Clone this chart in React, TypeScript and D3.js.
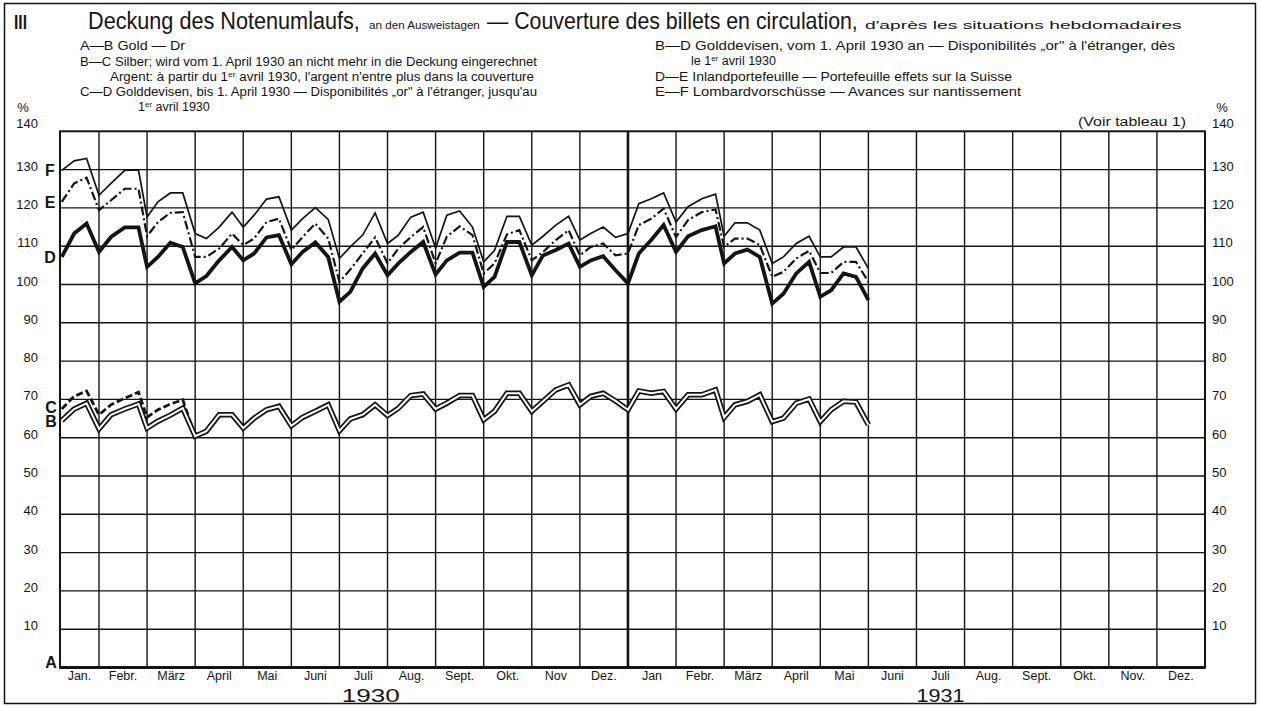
import React, { useLayoutEffect, useRef, useState } from 'react';
import * as d3 from 'd3';

// month labels along the bottom, 1930 then 1931
const monthLabels = [
  'Jan.', 'Febr.', 'März', 'April', 'Mai', 'Juni', 'Juli', 'Aug.', 'Sept.', 'Okt.', 'Nov', 'Dez.',
  'Jan', 'Febr.', 'März', 'April', 'Mai', 'Juni', 'Juli', 'Aug.', 'Sept.', 'Okt.', 'Nov.', 'Dez.',
];
const yearLabels = ['1930', '1931'];
const yTicks = [10, 20, 30, 40, 50, 60, 70, 80, 90, 100, 110, 120, 130, 140];

// report days of each month (7th, 15th, 23rd, month end)
const reportDays = [7, 15, 23, 31];
const reportMonths = 17; // Jan 1930 .. May 1931

// % coverage, cumulative, weekly returns Jan 1930 - May 1931
const goldB = [
  64.5, 67.5, 69.0, 62.3, 66.0, 67.5, 68.8, 62.5, 64.3, 65.9, 67.7, 60.4,
  61.7, 66.0, 66.0, 62.5, 65.1, 67.3, 68.2, 63.1, 65.3, 66.9, 68.6, 61.8,
  64.9, 66.0, 68.6, 65.8, 67.7, 71.0, 71.4, 67.5, 69.0, 71.0, 71.0, 64.7,
  66.9, 71.6, 71.6, 66.9, 69.5, 72.5, 73.8, 68.6, 70.8, 71.6, 69.6, 67.3,
  72.2, 71.6, 72.1, 67.5, 71.2, 71.2, 72.5, 65.3, 68.6, 69.5, 71.2, 64.2,
  65.1, 69.0, 70.1, 64.2, 67.3, 69.5, 69.3, 63.4,
];
// gold + silver, only until 1 April 1930
const silverC = [67.5, 70.8, 72.2, 66.0, 68.6, 70.3, 71.9, 65.3, 67.3, 68.8, 69.9, 60.4];
const devisenD = [
  107.2, 113.3, 115.9, 108.5, 112.4, 114.9, 114.9, 104.6, 107.2, 110.9, 109.8, 100.3,
  102.2, 106.3, 109.8, 106.3, 108.1, 112.3, 112.9, 105.3, 108.5, 111.0, 107.2, 95.5,
  98.1, 104.2, 108.1, 102.4, 105.5, 108.5, 111.1, 102.6, 106.3, 108.3, 108.3, 99.4,
  102.0, 111.1, 111.1, 102.4, 107.6, 109.0, 110.7, 104.6, 106.3, 107.4, 103.7, 100.3,
  108.1, 111.6, 115.5, 108.5, 112.6, 114.2, 115.2, 105.5, 108.1, 109.1, 107.2, 95.0,
  97.6, 102.9, 105.9, 96.8, 98.5, 102.9, 102.0, 95.9,
];
const portefeuilleE = [
  121.6, 126.4, 127.9, 119.4, 122.0, 125.0, 125.0, 112.6, 116.3, 118.7, 118.9, 107.2,
  107.2, 109.4, 113.3, 110.3, 112.0, 116.3, 117.2, 109.0, 112.4, 115.9, 112.0, 100.7,
  103.9, 108.1, 112.3, 105.5, 109.4, 112.4, 115.0, 105.5, 112.5, 115.2, 112.9, 102.9,
  105.5, 113.1, 114.2, 106.3, 108.5, 111.6, 114.2, 107.6, 109.8, 110.7, 107.6, 108.1,
  115.5, 117.2, 119.8, 112.4, 116.8, 118.9, 119.6, 109.8, 112.0, 112.0, 110.3, 102.0,
  103.3, 106.8, 108.8, 103.0, 103.0, 105.9, 105.9, 100.7,
];
const lombardF = [
  129.8, 132.3, 132.9, 123.3, 126.4, 129.8, 129.9, 117.6, 121.6, 123.9, 123.9, 113.3,
  112.0, 115.0, 118.9, 115.0, 118.1, 122.3, 122.9, 114.2, 117.2, 120.1, 117.0, 106.8,
  109.8, 112.9, 118.7, 110.7, 112.9, 117.6, 118.9, 109.5, 118.1, 119.2, 115.0, 105.9,
  108.9, 117.8, 117.8, 110.3, 112.6, 115.5, 117.8, 111.6, 113.3, 115.0, 112.3, 113.3,
  121.1, 122.4, 123.9, 116.3, 120.3, 122.4, 123.6, 112.6, 116.1, 116.1, 114.2, 105.5,
  107.2, 110.7, 112.6, 107.2, 107.2, 109.8, 109.8, 104.2,
];

const FONT = '"Liberation Sans", Arial, sans-serif';
const INK = '#141414';

const W = 1261;
const H = 706;
const plotLeft = 60;
const plotRight = 1205;

// position of each report date in "months since Jan 1930"
const reportPos: number[] = [];
for (let m = 0; m < reportMonths; m++) {
  const dim = new Date(1930, m + 1, 0).getDate();
  reportDays.forEach(d => reportPos.push(m + Math.min(d, dim) / dim));
}

const Sup = ({ children }: { children: string }) => (
  <tspan fontSize="8" dy="-4">{children}</tspan>
);

// squeeze a heading text horizontally to a given width (the original face is condensed)
function FitText({ x, y, width, size, children }: { x: number; y: number; width: number; size: number; children: string }) {
  const ref = useRef<SVGTextElement>(null);
  const [k, setK] = useState(1);
  useLayoutEffect(() => {
    if (!ref.current) return;
    const w = ref.current.getComputedTextLength();
    if (w > 0) setK(width / w);
  }, [width, children]);
  return (
    <text ref={ref} transform={`translate(${x},${y}) scale(${k},1)`} fontFamily={FONT} fontSize={size} fill={INK}>
      {children}
    </text>
  );
}

export default function App() {
  const x = d3.scaleLinear().domain([0, 24]).range([50.9, plotRight]);
  const y = d3.scaleLinear().domain([0, 140]).range([667.5, 131.3]);

  const line = d3.line<number>()
    .x((_, i) => x(reportPos[i]))
    .y(d => y(d));

  const monthStarts = d3.range(1, 24);
  const legend = { fontFamily: FONT, fontSize: 12.5, fill: INK };

  return (
    <svg width={W} height={H} style={{ position: 'absolute', left: 0, top: 0, background: '#fff' }}>
      {/* outer frame */}
      <rect x={4.5} y={3.5} width={1251} height={700} fill="none" stroke={INK} strokeWidth={1.5} />

      {/* heading */}
      <text x={14} y={29} fontFamily={FONT} fontSize={20} fontWeight={900} fill={INK} textLength={13} lengthAdjust="spacingAndGlyphs">III</text>
      <FitText x={88} y={29} width={272} size={24}>Deckung des Notenumlaufs,</FitText>
      <FitText x={369} y={29} width={111} size={11}>an den Ausweistagen</FitText>
      <FitText x={487} y={29} width={371} size={24}>— Couverture des billets en circulation,</FitText>
      <FitText x={865} y={29} width={317} size={11}>d'après les situations hebdomadaires</FitText>

      {/* legend, left column */}
      <g {...legend}>
        <text x={80} y={50} textLength={105} lengthAdjust="spacingAndGlyphs">A—B Gold — Dr</text>
        <text x={80} y={66} textLength={457} lengthAdjust="spacingAndGlyphs">B—C Silber; wird vom 1. April 1930 an nicht mehr in die Deckung eingerechnet</text>
        <text x={110} y={81} textLength={424} lengthAdjust="spacingAndGlyphs">
          Argent: à partir du 1<Sup>er</Sup><tspan dy="4"> avril 1930, l'argent n'entre plus dans la couverture</tspan>
        </text>
        <text x={80} y={96} textLength={457} lengthAdjust="spacingAndGlyphs">C—D Golddevisen, bis 1. April 1930 — Disponibilités „or" à l'étranger, jusqu'au</text>
        <text x={138} y={111}>
          1<Sup>er</Sup><tspan dy="4"> avril 1930</tspan>
        </text>
      </g>

      {/* legend, right column */}
      <g {...legend}>
        <text x={655} y={50} textLength={520} lengthAdjust="spacingAndGlyphs">B—D Golddevisen, vom 1. April 1930 an — Disponibilités „or" à l'étranger, dès</text>
        <text x={691} y={65}>
          le 1<Sup>er</Sup><tspan dy="4"> avril 1930</tspan>
        </text>
        <text x={655} y={81} textLength={357} lengthAdjust="spacingAndGlyphs">D—E Inlandportefeuille — Portefeuille effets sur la Suisse</text>
        <text x={655} y={96} textLength={366} lengthAdjust="spacingAndGlyphs">E—F Lombardvorschüsse — Avances sur nantissement</text>
        <text x={1078} y={126} textLength={108} lengthAdjust="spacingAndGlyphs">(Voir tableau 1)</text>
      </g>

      {/* grid */}
      <g stroke={INK} strokeWidth={1.4}>
        {yTicks.filter(v => v < 140).map(v => (
          <line key={v} x1={plotLeft} x2={plotRight} y1={y(v)} y2={y(v)} />
        ))}
        {monthStarts.map(m => (
          <line key={m} x1={x(m)} x2={x(m)} y1={y(140)} y2={y(0)} strokeWidth={m === 12 ? 2.6 : 1.4} />
        ))}
      </g>
      <rect x={plotLeft} y={y(140)} width={plotRight - plotLeft} height={y(0) - y(140)} fill="none" stroke={INK} strokeWidth={2} />
      <line x1={plotLeft} x2={plotRight} y1={y(0)} y2={y(0)} stroke={INK} strokeWidth={2.8} />

      {/* y labels both sides */}
      <g fontFamily={FONT} fontSize={13} fill={INK}>
        {yTicks.map(v => (
          <g key={v}>
            <text x={38} y={y(v) + (v === 140 ? -3 : 1)} textAnchor="end">{v}</text>
            <text x={1212} y={y(v) + (v === 140 ? -3 : 1)}>{v}</text>
          </g>
        ))}
        <text x={23} y={112} textAnchor="middle">%</text>
        <text x={1222} y={112} textAnchor="middle">%</text>
      </g>

      {/* x labels */}
      <g fontFamily={FONT} fontSize={12.5} fill={INK} textAnchor="middle">
        {monthLabels.map((lab, i) => (
          <text key={i} x={(Math.max(plotLeft, x(i)) + x(i + 1)) / 2} y={680}>{lab}</text>
        ))}
      </g>
      <g fontFamily={FONT} fontSize={19} fill={INK} textAnchor="middle">
        <text x={x(6.65)} y={702} textLength={58} lengthAdjust="spacingAndGlyphs">{yearLabels[0]}</text>
        <text x={x(18.5)} y={702} textLength={48} lengthAdjust="spacingAndGlyphs">{yearLabels[1]}</text>
      </g>

      {/* series */}
      <path d={line(lombardF) || ''} fill="none" stroke={INK} strokeWidth={1.7} />
      <path d={line(portefeuilleE) || ''} fill="none" stroke={INK} strokeWidth={2.2} strokeDasharray="9,3,2,3" />
      <path d={line(devisenD) || ''} fill="none" stroke={INK} strokeWidth={3.8} />
      <path d={line(silverC) || ''} fill="none" stroke={INK} strokeWidth={2.8} strokeDasharray="7,3" />
      <path d={line(goldB) || ''} fill="none" stroke={INK} strokeWidth={5.5} />
      <path d={line(goldB) || ''} fill="none" stroke="#fff" strokeWidth={2} />

      {/* series letters */}
      <g fontFamily={FONT} fontSize={16} fontWeight={700} fill={INK} textAnchor="middle">
        <text x={50} y={y(lombardF[0]) + 6}>F</text>
        <text x={50} y={y(portefeuilleE[0]) + 6}>E</text>
        <text x={50} y={y(devisenD[0]) + 6}>D</text>
        <text x={51} y={y(silverC[0]) + 4}>C</text>
        <text x={51} y={y(goldB[0]) + 7}>B</text>
        <text x={51} y={y(0)}>A</text>
      </g>
    </svg>
  );
}
